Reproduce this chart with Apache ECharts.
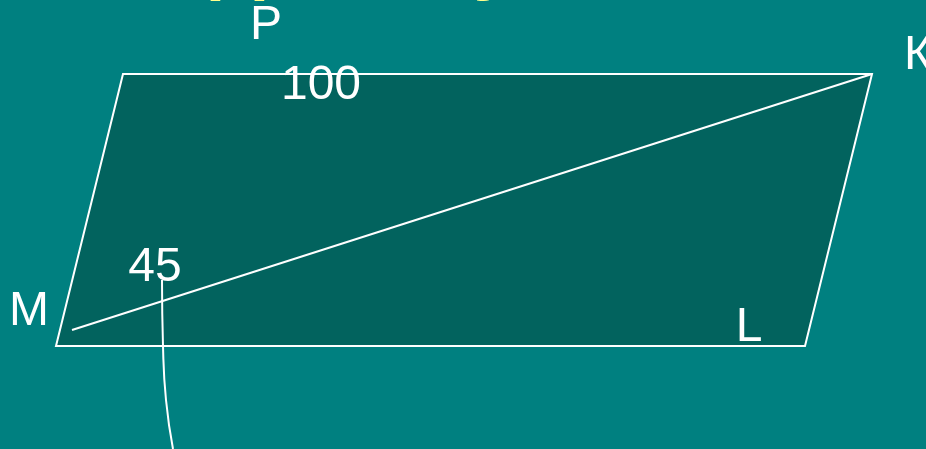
<!DOCTYPE html>
<html>
<head>
<meta charset="utf-8">
<script src="https://cdn.jsdelivr.net/npm/echarts@6/dist/echarts.min.js"></script>
<style>
html,body{margin:0;padding:0;background:#008080;overflow:hidden}
#chart{width:926px;height:449px}
</style>
</head>
<body>
<div id="chart"></div>
<script>
// вершины параллелограмма: M, верхний левый, K, нижний правый
var shapeX = [56, 123, 872, 805];
var shapeY = [346, 74, 74, 346];
// диагональ MK
var diagX = [72, 872];
var diagY = [330, 74];
// выноска от угла 45
var curveX = [162, 163, 166, 173];
var curveY = [280, 346, 400, 449];
// подписи на чертеже
var labelText = ['P', 'К', 'M', 'L', '100', '45'];
var labelX = [266, 918, 29, 749, 321, 155];
var labelY = [26, 56, 312, 328, 86, 268];
// обрезанный заголовок сверху
var titleText = 'Дано:  у';

var chart = echarts.init(document.getElementById('chart'));

function pairs(xs, ys) {
    var out = [];
    for (var i = 0; i < xs.length; i++) {
        out.push([xs[i], ys[i]]);
    }
    return out;
}

var labelData = [];
for (var i = 0; i < labelText.length; i++) {
    labelData.push({value: [labelX[i], labelY[i]], name: labelText[i]});
}

var option = {
    backgroundColor: '#008080',
    animation: false,
    grid: {left: 0, right: 0, top: 0, bottom: 0},
    xAxis: {type: 'value', min: 0, max: 926, show: false},
    yAxis: {type: 'value', min: 0, max: 449, inverse: true, show: false},
    graphic: [{
        type: 'text',
        x: 210,
        y: -76,
        style: {
            text: titleText,
            font: 'bold 78px "Liberation Sans"',
            fill: '#ffff8c'
        }
    }],
    series: [
        {
            // сам параллелограмм
            type: 'custom',
            coordinateSystem: 'cartesian2d',
            data: [0],
            renderItem: function (params, api) {
                var pts = [];
                for (var i = 0; i < shapeX.length; i++) {
                    pts.push(api.coord([shapeX[i], shapeY[i]]));
                }
                return {
                    type: 'polygon',
                    shape: {points: pts},
                    style: {fill: '#02635e', stroke: '#ffffff', lineWidth: 2}
                };
            },
            silent: true
        },
        {
            type: 'line',
            data: pairs(diagX, diagY),
            symbol: 'none',
            lineStyle: {color: '#ffffff', width: 2},
            silent: true
        },
        {
            type: 'line',
            data: pairs(curveX, curveY),
            smooth: true,
            symbol: 'none',
            lineStyle: {color: '#ffffff', width: 2},
            silent: true
        },
        {
            type: 'scatter',
            data: labelData,
            symbolSize: 1,
            itemStyle: {color: 'rgba(0,0,0,0)', opacity: 1},
            label: {
                show: true,
                position: 'inside',
                formatter: '{b}',
                color: '#ffffff',
                opacity: 1,
                textBorderWidth: 0,
                fontFamily: 'Liberation Sans',
                fontSize: 48
            },
            silent: true
        }
    ]
};
chart.setOption(option);
</script>
</body>
</html>
